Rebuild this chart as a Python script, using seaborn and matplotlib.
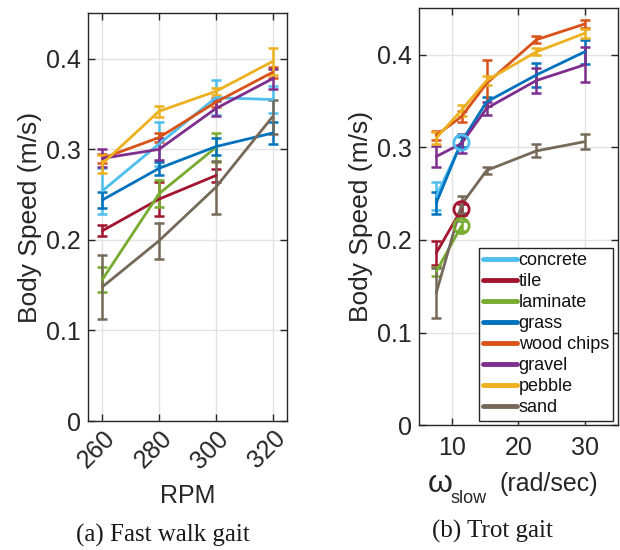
import numpy as np
import pandas as pd
import matplotlib
matplotlib.use('Agg')
import matplotlib.pyplot as plt
import matplotlib.transforms as mtransforms
import seaborn as sns

# surfaces, in legend order
surfaces = ['concrete', 'tile', 'laminate', 'grass', 'wood chips', 'gravel', 'pebble', 'sand']
colors = ['#4DBEEE', '#A2142F', '#77AC30', '#0072BD', '#D95319', '#7E2F8E', '#EDB120', '#766959']

# (a) fast walk gait
rpm = [260, 280, 300, 320]
walk_speed = {
    'concrete':   [0.254, 0.306, 0.357, 0.355],
    'tile':       [0.210, 0.245, 0.271, np.nan],
    'laminate':   [0.156, 0.251, 0.302, np.nan],
    'grass':      [0.244, 0.279, 0.303, 0.318],
    'wood chips': [0.290, 0.313, 0.352, 0.385],
    'gravel':     [0.290, 0.300, 0.345, 0.378],
    'pebble':     [0.284, 0.342, 0.364, 0.397],
    'sand':       [0.148, 0.199, 0.258, 0.336],
}
walk_err = {
    'concrete':   [0.025, 0.024, 0.019, 0.015],
    'tile':       [0.006, 0.019, 0.007, np.nan],
    'laminate':   [0.014, 0.015, 0.016, np.nan],
    'grass':      [0.009, 0.007, 0.009, 0.012],
    'wood chips': [0.005, 0.005, 0.005, 0.006],
    'gravel':     [0.010, 0.012, 0.008, 0.011],
    'pebble':     [0.010, 0.006, 0.004, 0.015],
    'sand':       [0.035, 0.020, 0.029, 0.019],
}

# (b) trot gait
omega = [7.6, 11.4, 15.2, 22.7, 30.0]
trot_speed = {
    'concrete':   [0.247, 0.305, np.nan, np.nan, np.nan],
    'tile':       [0.186, 0.233, np.nan, np.nan, np.nan],
    'laminate':   [0.166, 0.215, np.nan, np.nan, np.nan],
    'grass':      [0.240, 0.306, 0.349, 0.378, 0.403],
    'wood chips': [0.313, 0.333, 0.369, 0.416, 0.433],
    'gravel':     [0.290, 0.304, 0.342, 0.372, 0.389],
    'pebble':     [0.310, 0.340, 0.372, 0.403, 0.423],
    'sand':       [0.143, 0.238, 0.275, 0.296, 0.306],
}
trot_err = {
    'concrete':   [0.015, 0.006, np.nan, np.nan, np.nan],
    'tile':       [0.013, 0.006, np.nan, np.nan, np.nan],
    'laminate':   [0.005, 0.005, np.nan, np.nan, np.nan],
    'grass':      [0.012, 0.006, 0.005, 0.013, 0.013],
    'wood chips': [0.005, 0.006, 0.025, 0.004, 0.004],
    'gravel':     [0.011, 0.010, 0.007, 0.014, 0.019],
    'pebble':     [0.006, 0.006, 0.005, 0.004, 0.005],
    'sand':       [0.027, 0.009, 0.004, 0.007, 0.008],
}
# surfaces whose last trot point is circled
circled = ['concrete', 'tile', 'laminate']

yticks = [0, 0.1, 0.2, 0.3, 0.4]
ytick_labels = ['0', '0.1', '0.2', '0.3', '0.4']


def long_form(x, speed, err):
    rows = []
    for s in surfaces:
        for xi, yi, ei in zip(x, speed[s], err[s]):
            if not np.isnan(yi):
                rows.append({'x': xi, 'speed': yi, 'err': ei, 'surface': s})
    return pd.DataFrame(rows)


df_walk = long_form(rpm, walk_speed, walk_err)
df_trot = long_form(omega, trot_speed, trot_err)

sns.set_theme(style='whitegrid')
plt.rcParams['font.family'] = ['Liberation Sans', 'DejaVu Sans']
palette = dict(zip(surfaces, colors))
ink = '#262626'

fig = plt.figure(figsize=(6.2, 5.5), dpi=100)
ax1 = fig.add_axes([0.142, 0.2345, 0.3205, 0.741])
ax2 = fig.add_axes([0.676, 0.227, 0.3205, 0.758])

for ax, df in [(ax1, df_walk), (ax2, df_trot)]:
    for s in surfaces:
        d = df[df['surface'] == s]
        ax.errorbar(d['x'], d['speed'], yerr=d['err'], fmt='none', ecolor=palette[s],
                    elinewidth=1.8, capsize=3.5, capthick=1.8, zorder=3)
    sns.lineplot(data=df, x='x', y='speed', hue='surface', hue_order=surfaces,
                 palette=palette, linewidth=2, ax=ax, legend=(ax is ax2),
                 errorbar=None, zorder=4)
    ax.set_ylim(0, 0.45)
    ax.set_yticks(yticks)
    ax.set_yticklabels(ytick_labels)
    ax.set_ylabel('Body Speed (m/s)', fontsize=19, labelpad=3, color=ink)
    ax.grid(True, color='#e3e3e3', linewidth=1)
    ax.tick_params(direction='in', length=5, width=1, color=ink,
                   labelsize=18, pad=5, top=True, right=True,
                   bottom=True, left=True, labelcolor=ink)
    for sp in ax.spines.values():
        sp.set_color(ink)
        sp.set_linewidth(1)
    ax.set_facecolor('white')

# circled end points in trot gait
for s in circled:
    d = df_trot[df_trot['surface'] == s]
    ax2.scatter(d['x'].iloc[-1], d['speed'].iloc[-1], s=120, facecolors='none',
                edgecolors=palette[s], linewidths=2, zorder=5)

ax1.set_xlim(255, 325)
ax1.set_xticks(rpm)
ax1.set_xticklabels([str(r) for r in rpm], rotation=45, ha='right', va='center',
                    rotation_mode='anchor')
ax1.tick_params(axis='x', pad=10)
# nudge the rotated labels to the right, as in the original
shift = mtransforms.ScaledTranslation(9 / 100, 0, fig.dpi_scale_trans)
for lab in ax1.get_xticklabels():
    lab.set_transform(lab.get_transform() + shift)
ax1.set_xlabel('RPM', fontsize=18, labelpad=8, color=ink)

ax2.set_xlim(5, 35)
ax2.set_xticks([10, 20, 30])
ax2.tick_params(axis='x', pad=8)
ax2.set_xlabel('')
# omega_slow (rad/sec) label, with a large omega and a small subscript
fig.text(0.690, 0.1055, '\u03c9', fontsize=23, color=ink, va='baseline')
fig.text(0.7274, 0.0855, 'slow', fontsize=13, color=ink, va='baseline')
fig.text(0.806, 0.107, '(rad/sec)', fontsize=18, color=ink, va='baseline')

leg = ax2.legend(loc='lower right', bbox_to_anchor=(1, 0), borderaxespad=0.25,
                 fontsize=13, frameon=True, fancybox=False, framealpha=1,
                 edgecolor=ink, handlelength=1.85, handletextpad=0.1,
                 labelspacing=0.22, borderpad=0.25, title=None)
leg.get_frame().set_linewidth(1)
for h in leg.legend_handles:
    h.set_linewidth(3.5)
for t in leg.get_texts():
    t.set_color('#111111')

fig.text(0.263, 0.016, '(a) Fast walk gait', family='Liberation Serif',
         fontsize=18, ha='center', va='baseline', color='#1a1a1a')
fig.text(0.795, 0.022, '(b) Trot gait', family='Liberation Serif',
         fontsize=18, ha='center', va='baseline', color='#1a1a1a')

fig.savefig('out.png', dpi=100)
